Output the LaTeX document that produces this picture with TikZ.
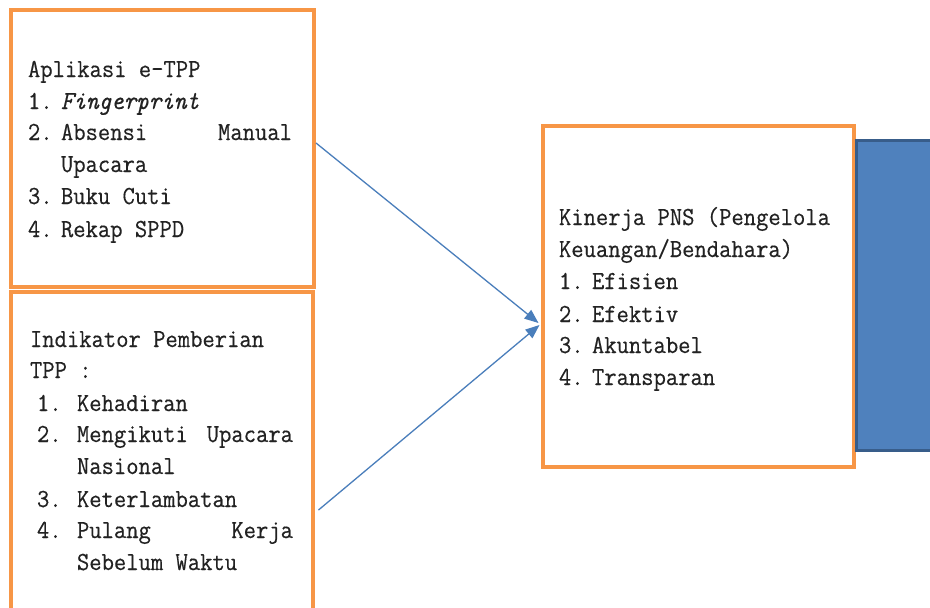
\documentclass[tikz,border=0pt]{standalone}
\usepackage{fontspec}
\usetikzlibrary{arrows.meta}
\newfontfamily\monof[FakeStretch=0.92,FakeBold=0.4]{Latin Modern Mono}
\definecolor{boxorange}{HTML}{F79646}
\definecolor{arrblue}{HTML}{4A7EBB}
\definecolor{fillblue}{HTML}{4F81BD}
\definecolor{edgeblue}{HTML}{385D8A}
\definecolor{txtcol}{HTML}{222222}
\newcommand{\itmA}[2]{\makebox[33pt][l]{#1}#2}
\newcommand{\itmB}[2]{\makebox[40pt][l]{#1}#2}
\begin{document}
\begin{tikzpicture}[x=1pt,y=-1pt,
  obox/.style={draw=boxorange,line width=4pt,fill=white,rectangle,inner sep=0pt,outer sep=0pt,anchor=north west},
  txt/.style={anchor=base west,inner sep=0pt,outer sep=0pt,text=txtcol,font=\monof\fontsize{26pt}{32pt}\selectfont},
  arr/.style={draw=arrblue,line width=1.3pt,-{Triangle[length=14pt,width=11pt]}}]
\useasboundingbox (0,0) rectangle (930,608);
\clip (0,0) rectangle (930,608);
\fill[white] (0,0) rectangle (930,608);
% boxes
\node[obox,minimum width=303pt,minimum height=277.5pt] (app) at (10.5,9.5) {};
\node[obox,minimum width=302pt,minimum height=348pt] (ind) at (11,292) {};
\node[obox,minimum width=311pt,minimum height=340.7pt] (kin) at (542.5,126.3) {};
\node[draw=edgeblue,fill=fillblue,line width=3pt,rectangle,inner sep=0pt,outer sep=0pt,anchor=north west,minimum width=110pt,minimum height=310pt] (blue) at (856,140) {};
% box 1 text
\node[txt] (a0) at (28,77) {Aplikasi e-TPP};
\node[txt] (a1) at (28,109) {\itmA{1.}{\textit{Fingerprint}}};
\node[txt] (a2) at (28,140) {\makebox[264pt][l]{\itmA{2.}{Absensi}\hfill Manual}};
\node[txt] (a3) at (61,172) {Upacara};
\node[txt] (a4) at (28,204) {\itmA{3.}{Buku Cuti}};
\node[txt] (a5) at (28,237) {\itmA{4.}{Rekap SPPD}};
% box 2 text
\node[txt] (b0) at (30,347) {Indikator Pemberian};
\node[txt] (b1) at (30,378) {TPP :};
\node[txt] (b2) at (37,411) {\itmB{1.}{Kehadiran}};
\node[txt] (b3) at (37,442) {\makebox[256pt][l]{\itmB{2.}{Mengikuti}\hfill Upacara}};
\node[txt] (b4) at (77,474) {Nasional};
\node[txt] (b5) at (37,507) {\itmB{3.}{Keterlambatan}};
\node[txt] (b6) at (37,538) {\makebox[256pt][l]{\itmB{4.}{Pulang}\hfill Kerja}};
\node[txt] (b7) at (77,570) {Sebelum Waktu};
% box 3 text
\node[txt] (c0) at (559,225) {Kinerja PNS (Pengelola};
\node[txt] (c1) at (559,257) {Keuangan/Bendahara)};
\node[txt] (c2) at (559,289) {\itmA{1.}{Efisien}};
\node[txt] (c3) at (559,322) {\itmA{2.}{Efektiv}};
\node[txt] (c4) at (559,353) {\itmA{3.}{Akuntabel}};
\node[txt] (c5) at (559,385) {\itmA{4.}{Transparan}};
% connectors
\coordinate (s1) at (316,143);
\coordinate (e1) at (538.5,323);
\coordinate (s2) at (318.5,510);
\coordinate (e2) at (539.5,325);
\draw[arr] (s1) -- (e1);
\draw[arr] (s2) -- (e2);
\end{tikzpicture}
\end{document}
